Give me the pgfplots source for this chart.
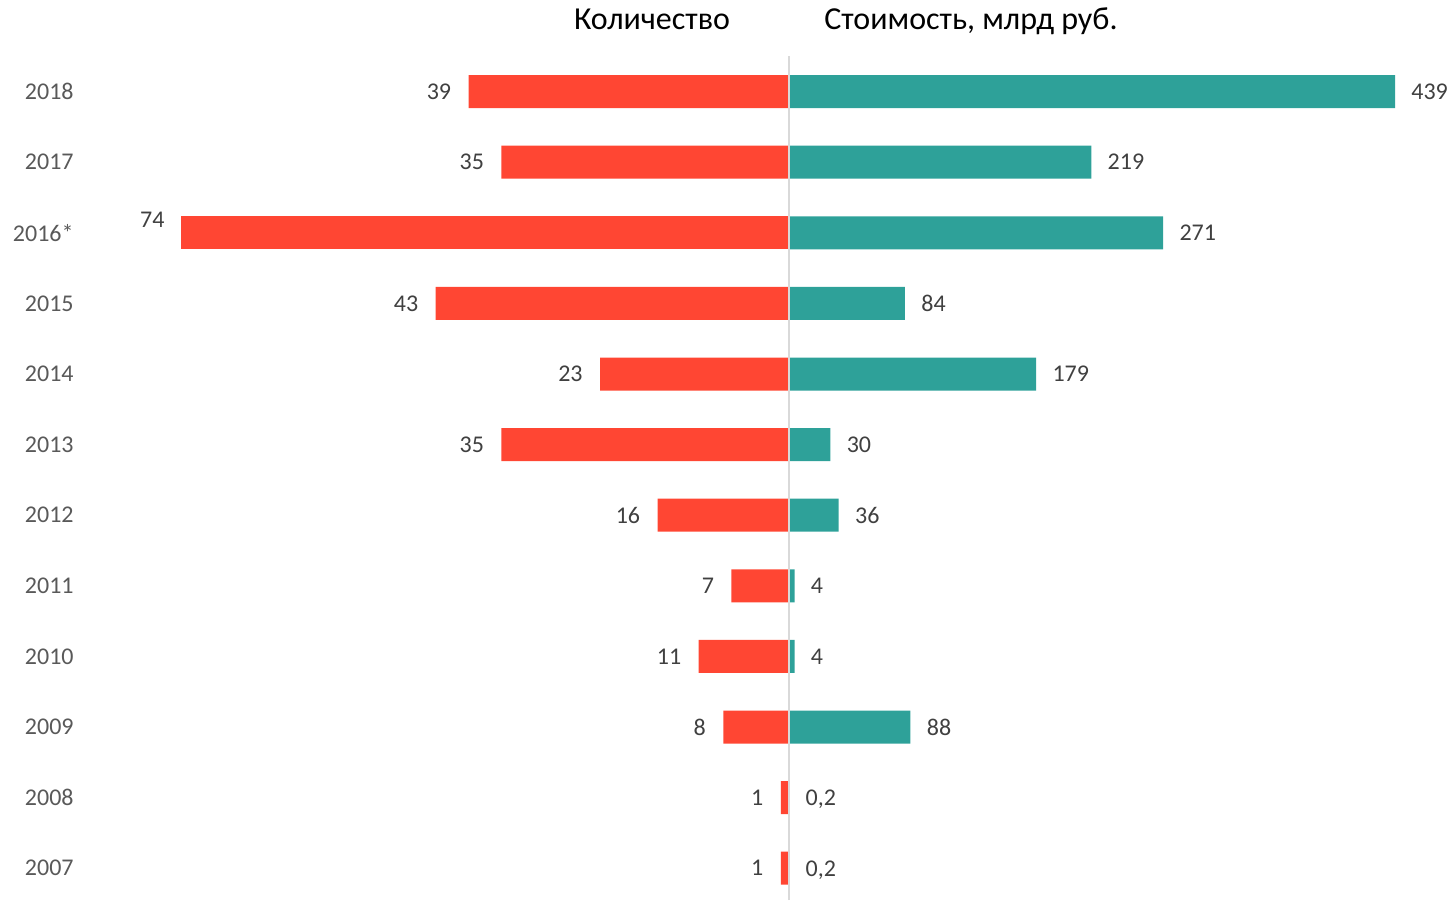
\documentclass[border=0pt]{standalone}
\usepackage{pgfplots}
\pgfplotsset{compat=1.18}
\usepackage{fontspec}
\setmainfont{Carlito}
\definecolor{cred}{HTML}{FF4633}
\definecolor{cteal}{HTML}{2EA199}
\definecolor{lbl}{HTML}{404040}
\definecolor{yr}{HTML}{595959}
\definecolor{cline}{HTML}{D9D9D9}
\pgfplotstableread{
i v l
11 39 39
10 35 35
8 43 43
7 23 23
6 35 35
5 16 16
4 7 7
3 11 11
2 8 8
1 1 1
0 1 1
}\leftdata
\pgfplotstableread{
i v l
9 74 74
}\leftspecial
\pgfplotstableread{
i v l
11 439 439
10 219 219
9 271 271
8 84 84
7 179 179
6 30 30
5 36 36
4 4 4
3 4 4
2 88 88
1 0.2 0,2
0 0.2 0,2
}\rightdata
\begin{document}
\begin{tikzpicture}
\path[use as bounding box] (0,0) rectangle (725.5pt,450pt);
\pgfplotsset{base/.style={scale only axis, height=421.85pt, ymin=-0.45, ymax=11.5,
  xtick=\empty, axis line style={draw=none}, major tick length=0pt, clip=false,
  xbar, bar width=16.5pt, bar shift=0pt, /pgf/number format/assume math mode=true,
  font=\fontsize{12}{14}\selectfont}}
\begin{axis}[base, at={(394.5pt,0pt)}, anchor=south east, width=357.5pt,
  x dir=reverse, xmin=0, xmax=87.02, ytick={0,...,11},
  yticklabels={2007,2008,2009,2010,2011,2012,2013,2014,2015,2016*,2017,2018},
  yticklabel style={inner sep=0pt, text=yr, anchor=east}]
\addplot[fill=cred, draw=none, bar shift=0pt, point meta=explicit symbolic, nodes near coords,
  nodes near coords align={left},
  every node near coord/.append style={text=lbl, inner sep=0pt, xshift=-8.5pt, text depth=0pt}]
  table[x=v, y=i, meta=l] {\leftdata};
\addplot[fill=cred, draw=none, bar shift=0pt, point meta=explicit symbolic, nodes near coords,
  nodes near coords align={left},
  every node near coord/.append style={text=lbl, inner sep=0pt, xshift=-8pt, yshift=6.5pt, text depth=0pt}]
  table[x=v, y=i, meta=l] {\leftspecial};
\end{axis}
\begin{axis}[base, at={(394.5pt,0pt)}, anchor=south west, width=303pt,
  xmin=0, xmax=439, ytick=\empty]
\addplot[fill=cteal, draw=none, bar shift=0pt, point meta=explicit symbolic, nodes near coords,
  nodes near coords align={right},
  every node near coord/.append style={text=lbl, inner sep=0pt, xshift=8pt, text depth=0pt}]
  table[x=v, y=i, meta=l] {\rightdata};
\draw[cline, line width=1pt] (axis cs:0,-0.45) -- (axis cs:0,11.5);
\end{axis}
\node[anchor=base, font=\fontsize{16}{19}\selectfont] at (326pt,435pt) {Количество};
\node[anchor=base, font=\fontsize{16}{19}\selectfont] at (485.5pt,435pt) {Стоимость, млрд руб.};
\end{tikzpicture}
\end{document}
